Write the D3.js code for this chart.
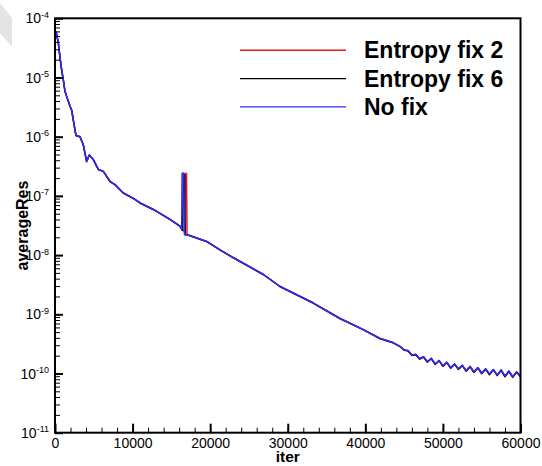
<!DOCTYPE html>
<meta charset="utf-8">
<style>
	body { margin: 0; background: white; }
	text { font-family: "Liberation Sans", Arial, sans-serif; }
	.frame { fill: none; stroke: black; stroke-width: 2px; }
	.serie { fill: none; stroke-width: 1.5px; stroke-linejoin: round; }
	.axis path { display: none; }
	.major line { stroke: black; stroke-width: 2px; }
	.minor line { stroke: black; stroke-width: 1px; }
</style>
<html>
<body>
<script src="https://d3js.org/d3.v7.min.js"></script>
<script>
	var width = 542;
	var height = 466;
	var margin = {top: 18.3, right: 21.5, bottom: 33.3, left: 55};

	// first part, same for the three runs
	var iterHead = [0, 150, 430, 640, 860, 1070, 1290, 1500, 1930, 2150, 2360, 2700, 3220, 3650, 4080, 4420, 4940, 5580, 6230, 7090, 7730, 8800, 10090, 10960, 12670, 14820, 16100, 16330];
	var resHead = [4.5e-5, 5.9e-5, 3.8e-5, 2.2e-5, 1.35e-5, 9.1e-6, 5.8e-6, 4.8e-6, 3.3e-6, 2.8e-6, 1.9e-6, 1.05e-6, 1.0e-6, 7.3e-7, 3.8e-7, 4.9e-7, 4.1e-7, 2.8e-7, 2.6e-7, 1.75e-7, 1.55e-7, 1.12e-7, 9.1e-8, 7.6e-8, 5.9e-8, 4.0e-8, 3.1e-8, 2.75e-8];

	// spikes around 16500
	var iterSpikeRed = [16700, 16800, 16950, 17020];
	var resSpikeRed = [2.5e-8, 2.4e-7, 2.4e-7, 2.2e-8];
	var iterSpikeBlack = [16450, 16550, 16700, 16780];
	var resSpikeBlack = [2.6e-8, 2.3e-7, 2.3e-7, 2.2e-8];
	var iterSpikeBlue = [16380, 16600, 16680];
	var resSpikeBlue = [2.4e-7, 2.45e-7, 2.2e-8];

	// middle part
	var iterMid = [17050, 19540, 21260, 22940, 26850, 29000, 31140, 33290, 36730, 39730, 41880, 43600, 44500];
	var resMid = [2.2e-8, 1.7e-8, 1.23e-8, 9.1e-9, 4.7e-9, 2.95e-9, 2.14e-9, 1.55e-9, 8.5e-10, 5.5e-10, 3.9e-10, 3.3e-10, 2.85e-10];

	// oscillating tail
	var iterTail = [45000, 45500, 46000, 46500, 47000, 47500, 48000, 48500, 49000, 49500, 50000, 50500, 51000, 51500, 52000, 52500, 53000, 53500, 54000, 54500, 55000, 55500, 56000, 56500, 57000, 57500, 58000, 58500, 59000, 59500, 60000];
	var resTailRed = [2.48e-10, 2.4e-10, 2.02e-10, 2.08e-10, 1.74e-10, 1.9e-10, 1.55e-10, 1.78e-10, 1.42e-10, 1.64e-10, 1.32e-10, 1.53e-10, 1.23e-10, 1.43e-10, 1.17e-10, 1.36e-10, 1.09e-10, 1.3e-10, 1.04e-10, 1.24e-10, 9.9e-11, 1.18e-10, 9.5e-11, 1.15e-10, 9.2e-11, 1.13e-10, 8.8e-11, 1.08e-10, 8.6e-11, 1.05e-10, 8.8e-11];
	var resTailBlack = [2.49e-10, 2.42e-10, 2.04e-10, 2.1e-10, 1.76e-10, 1.92e-10, 1.56e-10, 1.8e-10, 1.43e-10, 1.65e-10, 1.33e-10, 1.54e-10, 1.24e-10, 1.44e-10, 1.18e-10, 1.37e-10, 1.1e-10, 1.31e-10, 1.05e-10, 1.25e-10, 1.0e-10, 1.19e-10, 9.6e-11, 1.16e-10, 9.3e-11, 1.14e-10, 8.9e-11, 1.09e-10, 8.7e-11, 1.06e-10, 8.9e-11];
	var resTailBlue = [2.5e-10, 2.45e-10, 2.05e-10, 2.12e-10, 1.78e-10, 1.93e-10, 1.58e-10, 1.81e-10, 1.45e-10, 1.66e-10, 1.35e-10, 1.55e-10, 1.26e-10, 1.45e-10, 1.2e-10, 1.38e-10, 1.12e-10, 1.32e-10, 1.07e-10, 1.26e-10, 1.02e-10, 1.2e-10, 9.8e-11, 1.17e-10, 9.5e-11, 1.15e-10, 9.1e-11, 1.1e-10, 8.9e-11, 1.07e-10, 9.1e-11];

	var names = ["Entropy fix 2", "Entropy fix 6", "No fix"];
	var colors = ["#e41a1c", "#000000", "#2b2bff"];
	var xTicks = [0, 10000, 20000, 30000, 40000, 50000, 60000];
	var yExps = [-4, -5, -6, -7, -8, -9, -10, -11];

	function join(a, b) { return a.map(function(d, i){ return [d, b[i]]; }); }

	var series = [
		join(iterHead, resHead).concat(join(iterSpikeRed, resSpikeRed), join(iterMid, resMid), join(iterTail, resTailRed)),
		join(iterHead, resHead).concat(join(iterSpikeBlack, resSpikeBlack), join(iterMid, resMid), join(iterTail, resTailBlack)),
		join(iterHead, resHead).concat(join(iterSpikeBlue, resSpikeBlue), join(iterMid, resMid), join(iterTail, resTailBlue))
	];

	var x = d3.scaleLinear()
		.domain([0, 60000])
		.range([margin.left, width - margin.right]);

	var y = d3.scaleLog()
		.domain([1e-11, 1e-4])
		.range([height - margin.bottom, margin.top]);

	var svg = d3.select("body")
		.append("svg")
		.attr("width", width)
		.attr("height", height)
		.style("background-color", "white");

	// grey mark in the corner of the scan
	svg.append("polygon")
		.attr("points", "0,3 12,18 12,47 0,33")
		.style("fill", "#e4e4e4");

	var line = d3.line()
		.x(function(d){ return x(d[0]); })
		.y(function(d){ return y(d[1]); });

	svg.selectAll(".serie")
		.data(series)
		.enter().append("path")
		.attr("class", "serie")
		.attr("d", line)
		.style("stroke", function(d, i){ return colors[i]; });

	// x ticks, pointing inside
	svg.append("g")
		.attr("class", "axis minor")
		.attr("transform", "translate(0," + (height - margin.bottom) + ")")
		.call(d3.axisBottom(x).tickValues(d3.range(0, 60001, 2000)).tickSize(-5).tickFormat(""));

	svg.append("g")
		.attr("class", "axis major")
		.attr("transform", "translate(0," + (height - margin.bottom) + ")")
		.call(d3.axisBottom(x).tickValues(xTicks).tickSize(-9).tickPadding(5).tickFormat(d3.format("d")))
		.selectAll("text")
		.style("font-size", "14px")
		.style("font-family", "Liberation Sans, Arial, sans-serif")
		.attr("fill", "black");

	// y ticks
	svg.append("g")
		.attr("class", "axis minor")
		.attr("transform", "translate(" + margin.left + ",0)")
		.call(d3.axisLeft(y).tickValues(y.ticks()).tickSize(-5).tickFormat(""));

	svg.append("g")
		.attr("class", "axis major")
		.attr("transform", "translate(" + margin.left + ",0)")
		.call(d3.axisLeft(y).tickValues(yExps.map(function(e){ return Math.pow(10, e); })).tickSize(-8).tickFormat(""));

	var ylab = svg.selectAll(".ylab")
		.data(yExps)
		.enter().append("text")
		.attr("class", "ylab")
		.attr("x", 49)
		.attr("y", function(d){ return y(Math.pow(10, d)) + 5; })
		.attr("text-anchor", "end")
		.style("font-size", "14px");
	ylab.append("tspan").text("10");
	ylab.append("tspan")
		.attr("dy", -5.5)
		.style("font-size", "9px")
		.text(function(d){ return d; });

	svg.append("rect")
		.attr("class", "frame")
		.attr("x", margin.left)
		.attr("y", margin.top)
		.attr("width", width - margin.left - margin.right)
		.attr("height", height - margin.top - margin.bottom);

	// axis titles
	svg.append("text")
		.attr("x", (margin.left + width - margin.right) / 2)
		.attr("y", 462)
		.attr("text-anchor", "middle")
		.style("font-size", "15.5px")
		.style("font-weight", "bold")
		.text("iter");

	svg.append("text")
		.attr("transform", "translate(27.5," + ((margin.top + height - margin.bottom) / 2) + ") rotate(-90)")
		.attr("text-anchor", "middle")
		.style("font-size", "16px")
		.style("font-weight", "bold")
		.text("averageRes");

	// legend
	var legend = svg.selectAll(".legend")
		.data(names)
		.enter().append("g")
		.attr("class", "legend")
		.attr("transform", function(d, i){ return "translate(0," + (50.3 + i * 28.3) + ")"; });

	legend.append("line")
		.attr("x1", 240)
		.attr("x2", 346)
		.style("stroke", function(d, i){ return colors[i]; })
		.style("stroke-width", "1.4px");

	legend.append("text")
		.attr("x", 364)
		.attr("y", 8)
		.style("font-size", "23px")
		.style("font-weight", "bold")
		.text(function(d){ return d; });
</script>
</body>
</html>
